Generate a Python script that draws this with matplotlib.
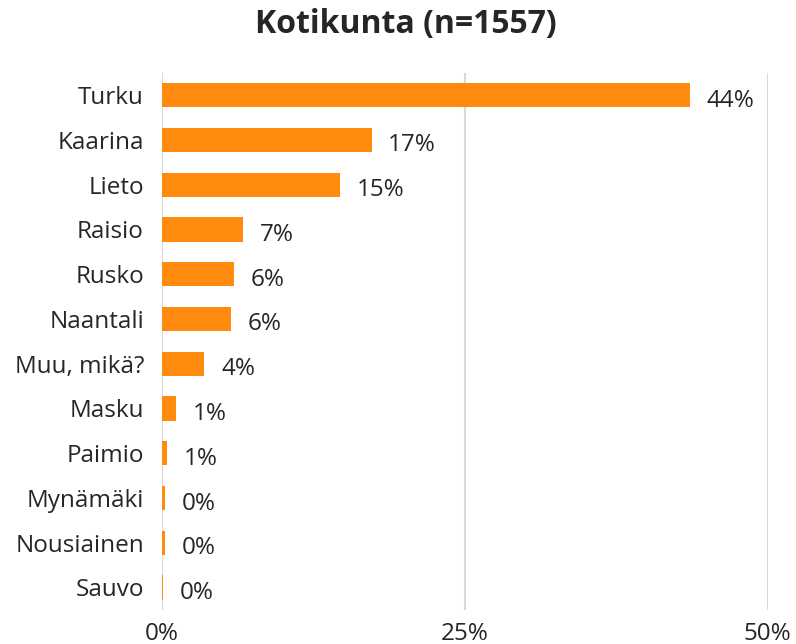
import matplotlib
matplotlib.use("Agg")
import matplotlib.pyplot as plt
from matplotlib.ticker import FuncFormatter

categories = ["Turku", "Kaarina", "Lieto", "Raisio", "Rusko", "Naantali",
              "Muu, mikä?", "Masku", "Paimio", "Mynämäki", "Nousiainen", "Sauvo"]
values = [43.6, 17.3, 14.7, 6.7, 5.95, 5.7, 3.5, 1.15, 0.45, 0.22, 0.22, 0.05]
labels = ["44%", "17%", "15%", "7%", "6%", "6%", "4%", "1%", "1%", "0%", "0%", "0%"]
xticks = [0, 25, 50]

plt.rcParams['font.family'] = ['Open Sans', 'DejaVu Sans']
text_color = "#262626"
bar_color = "#FF8A0D"
grid_color = "#D9D9D9"

fig = plt.figure(figsize=(7.96, 6.44), dpi=100)
ax = fig.add_axes([0.2035, 0.053, 0.761, 0.834])

ypos = list(range(len(categories)))
ax.barh(ypos, values, height=0.54, color=bar_color, zorder=3)
ax.set_ylim(len(categories) - 0.5, -0.5)
ax.set_xlim(0, 50)
ax.set_yticks(ypos)
ax.set_yticklabels(categories, fontsize=17.5, color=text_color)
ax.set_xticks(xticks)
ax.xaxis.set_major_formatter(FuncFormatter(lambda v, p: f"{v:.0f}%"))
ax.tick_params(axis='x', labelsize=17.5, labelcolor=text_color, length=0, pad=9)
ax.tick_params(axis='y', length=0, pad=13)

for s in ax.spines.values():
    s.set_visible(False)
ax.grid(axis='x', color=grid_color, linewidth=1.5, zorder=0)
ax.set_axisbelow(True)

for y, v, lab in zip(ypos, values, labels):
    ax.annotate(lab, xy=(v, y), xytext=(12, -4), textcoords='offset points',
                ha='left', va='center', fontsize=17.5, color=text_color)

fig.text(0.51, 0.962, "Kotikunta (n=1557)", ha='center', va='center',
         fontsize=23, fontweight='bold', color=text_color)

fig.savefig("out.png", dpi=100)
